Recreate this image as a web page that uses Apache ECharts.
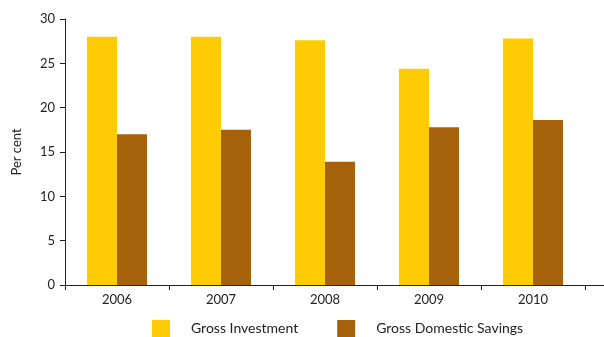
<!DOCTYPE html>
<html><head><meta charset="utf-8">
<script src="https://cdn.jsdelivr.net/npm/echarts@6/dist/echarts.min.js"></script>
<style>html,body{margin:0;padding:0;background:#fff}#c{width:604px;height:337px}</style>
</head><body><div id="c"></div>
<script>
var categories = ['2006','2007','2008','2009','2010'];
var grossInvestment = [28.0, 28.0, 27.6, 24.4, 27.8];
var grossSavings = [17.0, 17.5, 13.9, 17.8, 18.6];
var seriesNames = ['Gross Investment','Gross Domestic Savings'];
var yTitle = 'Per cent';

var chart = echarts.init(document.getElementById('c'));
var font = 'Lato';
chart.setOption({
  animation: false,
  textStyle: {fontFamily: font},
  grid: {left: 65, right: 19, top: 19, bottom: 52},
  legend: {
    left: 152, top: 320, itemWidth: 18, itemHeight: 17, itemGap: 39,
    icon: 'rect', padding: 0,
    textStyle: {fontFamily: font, fontSize: 14, color: '#222', padding: [0,0,0,16], lineHeight: 17},
    data: seriesNames
  },
  graphic: [{type: 'line', shape: {x1: 585, y1: 285.5, x2: 604, y2: 285.5}, style: {stroke: '#222', lineWidth: 1}}],
  xAxis: {
    type: 'category', data: categories,
    axisLine: {lineStyle: {color: '#222', width: 1}},
    axisTick: {show: true, length: 5, lineStyle: {color: '#222'}},
    axisLabel: {color: '#222', fontSize: 13, margin: 8, fontFamily: font}
  },
  yAxis: {
    type: 'value', min: 0, max: 30, interval: 5,
    name: yTitle, nameLocation: 'middle', nameGap: 42, nameRotate: 90,
    nameTextStyle: {color: '#222', fontSize: 13, fontFamily: font},
    axisLine: {show: true, lineStyle: {color: '#222', width: 1}},
    axisTick: {show: true, length: 5, lineStyle: {color: '#222'}},
    axisLabel: {color: '#222', fontSize: 13, margin: 10, fontFamily: font},
    splitLine: {show: false}
  },
  series: [
    {name: seriesNames[0], type: 'bar', data: grossInvestment, barWidth: 30, barGap: '0%', itemStyle: {color: '#FECB05'}},
    {name: seriesNames[1], type: 'bar', data: grossSavings, barWidth: 30, barGap: '0%', itemStyle: {color: '#A5620A'}}
  ]
});
</script></body></html>
